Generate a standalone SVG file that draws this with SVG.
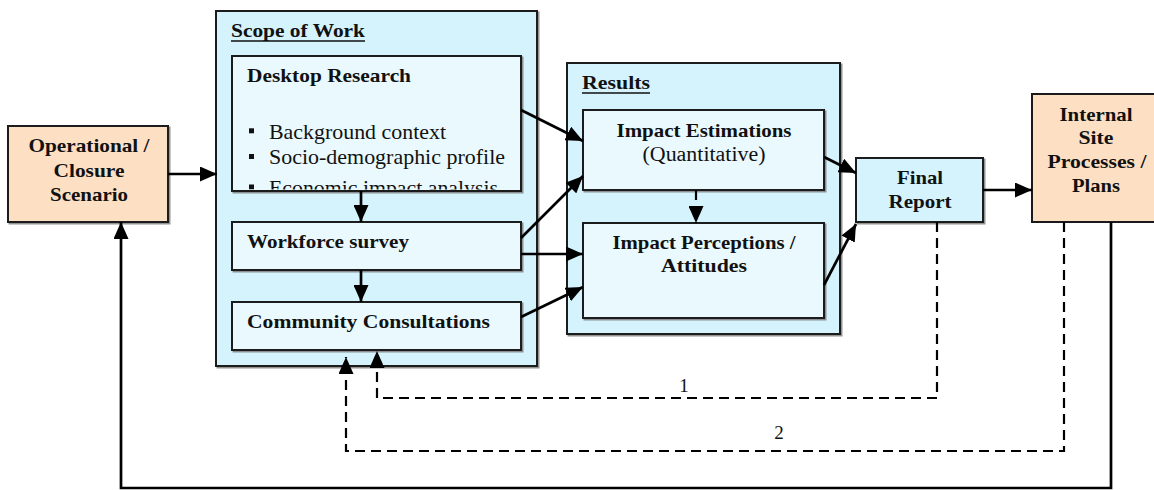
<svg xmlns="http://www.w3.org/2000/svg" width="1154" height="490" viewBox="0 0 1154 490">
  <style>
    text { font-family: "Liberation Serif", "Times New Roman", serif; fill: #111; }
    .b { font-weight: bold; font-size: 19.5px; }
    .h { font-weight: bold; font-size: 18.5px; }
    .r { font-size: 20px; }
    .li { font-size: 21px; }
    .n { font-size: 19px; }
    .mid { text-anchor: middle; }
    .peach { fill: #fde0c4; stroke: #1a1a1a; stroke-width: 2; }
    .cyan { fill: #d4f3fd; stroke: #1a1a1a; stroke-width: 2; }
    .pale { fill: #e9f9fe; stroke: #1a1a1a; stroke-width: 2; }
    .arrow { fill: none; stroke: #000; stroke-width: 2.7; marker-end: url(#head); }
    .dash { fill: none; stroke: #000; stroke-width: 2.2; stroke-dasharray: 10 6; marker-end: url(#head); }
    .ul { stroke: #111; stroke-width: 1.4; }
  </style>
  <defs>
    <marker id="head" markerUnits="userSpaceOnUse" markerWidth="17" markerHeight="15" refX="17" refY="7.5" orient="auto">
      <path d="M0,0 L17,7.5 L0,15 Z" fill="#000"/>
    </marker>
    <filter id="shadow" x="-5%" y="-5%" width="110%" height="110%">
      <feDropShadow dx="1.5" dy="1.5" stdDeviation="0.4" flood-color="#777" flood-opacity="0.8"/>
    </filter>
    <clipPath id="deskClip">
      <rect x="233" y="57" width="287" height="132.5"/>
    </clipPath>
  </defs>

  <!-- left scenario box -->
  <g id="operational">
    <rect class="peach" x="8" y="126" width="160" height="96" filter="url(#shadow)"/>
    <text class="b mid" x="89" y="152" textLength="121" lengthAdjust="spacingAndGlyphs">Operational /</text>
    <text class="b mid" x="89" y="176.5" textLength="71" lengthAdjust="spacingAndGlyphs">Closure</text>
    <text class="b mid" x="89" y="200.5" textLength="78" lengthAdjust="spacingAndGlyphs">Scenario</text>
  </g>

  <!-- scope of work container -->
  <g id="scope">
    <rect class="cyan" x="216" y="11" width="321" height="355" filter="url(#shadow)"/>
    <text class="h" x="231" y="37" textLength="134" lengthAdjust="spacingAndGlyphs">Scope of Work</text>
    <line class="ul" x1="231" y1="41" x2="365" y2="41"/>
  </g>

  <g id="desktop">
    <rect class="pale" x="232" y="56" width="289" height="135" filter="url(#shadow)"/>
    <text class="b" x="247" y="82" textLength="164" lengthAdjust="spacingAndGlyphs">Desktop Research</text>
    <!-- bullet list, last line cut off by the box edge -->
    <g clip-path="url(#deskClip)">
      <rect x="249" y="128.3" width="5" height="5" fill="#111"/>
      <text class="li" x="269" y="139" textLength="177" lengthAdjust="spacingAndGlyphs">Background context</text>
      <rect x="249" y="154" width="5" height="5" fill="#111"/>
      <text class="li" x="269" y="163.5" textLength="236" lengthAdjust="spacingAndGlyphs">Socio-demographic profile</text>
      <rect x="249" y="184.5" width="5" height="5" fill="#111"/>
      <text class="li" x="269" y="195" textLength="229" lengthAdjust="spacingAndGlyphs">Economic impact analysis</text>
    </g>
  </g>

  <g id="workforce">
    <rect class="pale" x="232" y="222" width="289" height="48" filter="url(#shadow)"/>
    <text class="b" x="247" y="248.3" textLength="162" lengthAdjust="spacingAndGlyphs">Workforce survey</text>
  </g>

  <g id="community">
    <rect class="pale" x="232" y="302" width="289" height="48" filter="url(#shadow)"/>
    <text class="b" x="247" y="327.7" textLength="243" lengthAdjust="spacingAndGlyphs">Community Consultations</text>
  </g>

  <!-- results container -->
  <g id="results">
    <rect class="cyan" x="567" y="63" width="273" height="271" filter="url(#shadow)"/>
    <text class="h" x="582" y="89.3" textLength="68" lengthAdjust="spacingAndGlyphs">Results</text>
    <line class="ul" x1="582" y1="93" x2="650" y2="93"/>
  </g>

  <g id="estimations">
    <rect class="pale" x="583" y="110" width="241" height="80" filter="url(#shadow)"/>
    <text class="b mid" x="704" y="136.7" textLength="175" lengthAdjust="spacingAndGlyphs">Impact Estimations</text>
    <text class="r mid" x="704" y="161" textLength="123" lengthAdjust="spacingAndGlyphs">(Quantitative)</text>
  </g>

  <g id="perceptions">
    <rect class="pale" x="583" y="223" width="241" height="95" filter="url(#shadow)"/>
    <text class="b mid" x="704" y="249.3" textLength="183" lengthAdjust="spacingAndGlyphs">Impact Perceptions /</text>
    <text class="b mid" x="704" y="271.7" textLength="86" lengthAdjust="spacingAndGlyphs">Attitudes</text>
  </g>

  <g id="final-report">
    <rect class="cyan" x="856" y="158" width="127" height="64" filter="url(#shadow)"/>
    <text class="b mid" x="920" y="184" textLength="46" lengthAdjust="spacingAndGlyphs">Final</text>
    <text class="b mid" x="920" y="208.3" textLength="63" lengthAdjust="spacingAndGlyphs">Report</text>
  </g>

  <g id="internal">
    <rect class="peach" x="1032" y="94" width="124" height="128"/>
    <text class="b mid" x="1096" y="120.7" textLength="73" lengthAdjust="spacingAndGlyphs">Internal</text>
    <text class="b mid" x="1096" y="144.3" textLength="35" lengthAdjust="spacingAndGlyphs">Site</text>
    <text class="b mid" x="1097" y="168.3" textLength="99" lengthAdjust="spacingAndGlyphs">Processes /</text>
    <text class="b mid" x="1096" y="192.3" textLength="48" lengthAdjust="spacingAndGlyphs">Plans</text>
  </g>

  <!-- connectors -->
  <g id="connectors">
    <path class="arrow" d="M168,174 L217,174"/>
    <path class="arrow" d="M361,191 L361,222"/>
    <path class="arrow" d="M361,270 L361,302"/>
    <path class="arrow" d="M521,110 L583,141"/>
    <path class="arrow" d="M521,238 L583,176"/>
    <path class="arrow" d="M521,254 L583,254"/>
    <path class="arrow" d="M521,317 L583,287"/>
    <path class="dash" d="M696,190 L696,223"/>
    <path class="arrow" d="M824,157 L856,173"/>
    <path class="arrow" d="M824,285 L856,224"/>
    <path class="arrow" d="M983,190 L1032,190"/>
    <path class="dash" d="M937,222 L937,398 L377,398 L377,351"/>
    <path class="dash" d="M1064,222 L1064,451 L346,451 L346,357"/>
    <path class="arrow" d="M1111,222 L1111,488 L121,488 L121,222"/>
    <text class="n mid" x="684" y="392">1</text>
    <text class="n mid" x="779" y="439">2</text>
  </g>
</svg>
